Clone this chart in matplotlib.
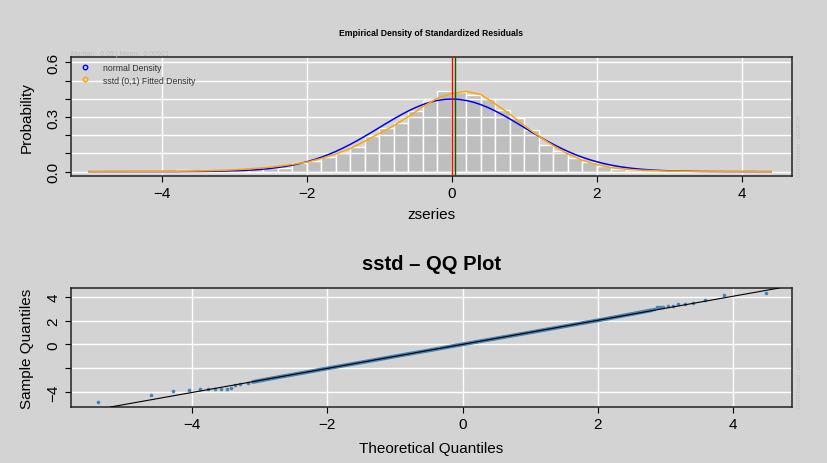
import matplotlib
matplotlib.use("Agg")
import matplotlib.pyplot as plt
from matplotlib.lines import Line2D
import numpy as np

plt.rcParams['font.family'] = ['Liberation Sans', 'DejaVu Sans']

# ---------------- data: top panel ----------------
bin_edges = [-5.0, -4.8, -4.6, -4.4, -4.2, -4.0, -3.8, -3.6, -3.4, -3.2, -3.0, -2.8, -2.6, -2.4,
             -2.2, -2.0, -1.8, -1.6, -1.4, -1.2, -1.0, -0.8, -0.6, -0.4, -0.2, 0.0, 0.2, 0.4,
             0.6, 0.8, 1.0, 1.2, 1.4, 1.6, 1.8, 2.0, 2.2, 2.4, 2.6, 2.8, 3.0, 3.2, 3.4, 3.6,
             3.8, 4.0, 4.2, 4.4]
bin_density = [0.002, 0.0, 0.0, 0.0, 0.002, 0.004, 0.009, 0.006, 0.005, 0.006, 0.008, 0.012,
               0.022, 0.019, 0.050, 0.056, 0.080, 0.105, 0.135, 0.198, 0.238, 0.266, 0.335,
               0.386, 0.442, 0.436, 0.420, 0.401, 0.336, 0.293, 0.227, 0.149, 0.112, 0.077,
               0.053, 0.031, 0.017, 0.010, 0.007, 0.006, 0.005, 0.004, 0.002, 0.002, 0.002,
               0.0, 0.002]

normal_x = [-5.0, -4.6, -4.2, -3.8, -3.4, -3.0, -2.9, -2.8, -2.7, -2.6, -2.5, -2.4, -2.3, -2.2,
            -2.1, -2.0, -1.9, -1.8, -1.7, -1.6, -1.5, -1.4, -1.3, -1.2, -1.1, -1.0, -0.9, -0.8,
            -0.7, -0.6, -0.5, -0.4, -0.3, -0.2, -0.1, 0.0, 0.1, 0.2, 0.3, 0.4, 0.5, 0.6, 0.7,
            0.8, 0.9, 1.0, 1.1, 1.2, 1.3, 1.4, 1.5, 1.6, 1.7, 1.8, 1.9, 2.0, 2.1, 2.2, 2.3,
            2.4, 2.5, 2.6, 2.7, 2.8, 2.9, 3.0, 3.4, 3.8, 4.2, 4.4]
normal_y = [0.0000015, 0.00001, 0.00006, 0.00029, 0.00123, 0.00443, 0.00595, 0.00792, 0.01042,
            0.01358, 0.01753, 0.02239, 0.02833, 0.03547, 0.04398, 0.05399, 0.06562, 0.07895,
            0.09405, 0.11092, 0.12952, 0.14973, 0.17137, 0.19419, 0.21785, 0.24197, 0.26609,
            0.28969, 0.31225, 0.33322, 0.35207, 0.36827, 0.38139, 0.39104, 0.39695, 0.39894,
            0.39695, 0.39104, 0.38139, 0.36827, 0.35207, 0.33322, 0.31225, 0.28969, 0.26609,
            0.24197, 0.21785, 0.19419, 0.17137, 0.14973, 0.12952, 0.11092, 0.09405, 0.07895,
            0.06562, 0.05399, 0.04398, 0.03547, 0.02833, 0.02239, 0.01753, 0.01358, 0.01042,
            0.00792, 0.00595, 0.00443, 0.00123, 0.00029, 0.00006, 0.000025]

sstd_x = [-5.0, -4.8, -4.6, -4.4, -4.2, -4.0, -3.8, -3.6, -3.4, -3.2, -3.0, -2.8, -2.6, -2.4,
          -2.2, -2.0, -1.8, -1.6, -1.4, -1.2, -1.0, -0.8, -0.6, -0.4, -0.2, 0.0, 0.2, 0.4,
          0.6, 0.8, 1.0, 1.2, 1.4, 1.6, 1.8, 2.0, 2.2, 2.4, 2.6, 2.8, 3.0, 3.2, 3.4, 3.6,
          3.8, 4.0, 4.2, 4.4]
sstd_y = [0.0002, 0.0003, 0.0004, 0.0006, 0.0009, 0.0013, 0.002, 0.003, 0.0045, 0.007, 0.010,
          0.015, 0.021, 0.029, 0.040, 0.052, 0.072, 0.097, 0.127, 0.167, 0.210, 0.253, 0.302,
          0.357, 0.403, 0.430, 0.441, 0.424, 0.372, 0.316, 0.253, 0.195, 0.142, 0.097, 0.063,
          0.038, 0.022, 0.013, 0.008, 0.005, 0.003, 0.002, 0.0012, 0.0008, 0.0005, 0.0003,
          0.0002, 0.0001]

resid_mean = 0.00921
resid_median = 0.05

top_xticks = [-4, -2, 0, 2, 4]
top_yticks = [0.0, 0.1, 0.2, 0.3, 0.4, 0.5, 0.6]
top_yticklabels = ['0.0', '', '', '0.3', '', '', '0.6']

# ---------------- data: bottom panel (QQ) ----------------
qq_theo_body = [-3.1, -2.9, -2.7, -2.5, -2.3, -2.1, -1.9, -1.5, -1.0, -0.5, 0.0, 0.5, 1.0,
                1.5, 2.0, 2.2, 2.4, 2.6, 2.8]
qq_samp_body = [-3.16, -2.94, -2.73, -2.53, -2.33, -2.12, -1.92, -1.52, -1.01, -0.51, 0.0,
                0.50, 1.0, 1.51, 2.01, 2.22, 2.44, 2.65, 2.87]
qq_theo_tails = [-5.39, -4.61, -4.28, -4.05, -3.89, -3.76, -3.66, -3.57, -3.49, -3.42, -3.36,
                 -3.29, -3.17, 2.83, 2.87, 2.92, 2.97, 3.03, 3.11, 3.19, 3.29, 3.41, 3.59,
                 3.86, 4.48]
qq_samp_tails = [-4.87, -4.23, -3.89, -3.81, -3.79, -3.77, -3.74, -3.72, -3.71, -3.64, -3.38,
                 -3.33, -3.27, 2.97, 3.10, 3.13, 3.16, 3.22, 3.26, 3.37, 3.40, 3.44, 3.72,
                 4.14, 4.29]
qq_line_intercept = 0.0
qq_line_slope = 1.01

bot_xticks = [-4, -2, 0, 2, 4]
bot_yticks = [-4, -2, 0, 2, 4]
bot_yticklabels = ['\u22124', '', '0', '2', '4']

# ---------------- figure ----------------
W, H = 828, 464
BG = '#D3D3D3'
fig = plt.figure(figsize=(W / 100, H / 100), dpi=100, facecolor=BG)


def px_axes(left, top, right, bottom):
    return fig.add_axes([left / W, 1 - bottom / H, (right - left) / W, (bottom - top) / H])


def style_axes(ax):
    ax.set_facecolor(BG)
    for s in ax.spines.values():
        s.set_color('#222222')
        s.set_linewidth(1.1)
    ax.tick_params(direction='out', length=4.5, width=0.8, colors='black',
                   labelsize=11, pad=3)
    ax.tick_params(axis='y', labelrotation=90)
    for lab in ax.get_yticklabels():
        lab.set_va('center')


# ---- top panel ----
ax1 = px_axes(71, 58, 792, 177)
ax1.set_xlim(-5.25, 4.69)
ax1.set_ylim(-0.024, 0.63)
edges = np.array(bin_edges)
ax1.bar(edges[:-1], bin_density, width=np.diff(edges), align='edge',
        color='#BEBEBE', edgecolor='white', linewidth=1.0, zorder=1)
for yv in top_yticks:
    ax1.axhline(yv, color='white', lw=1.0, zorder=2)
for xv in top_xticks:
    ax1.axvline(xv, color='white', lw=1.0, zorder=2)
ax1.plot(normal_x, normal_y, color='blue', lw=1.1, zorder=3)
ax1.plot(sstd_x, sstd_y, color='orange', lw=1.1, zorder=4)
ax1.axvline(resid_mean, color='red', lw=1.0, zorder=5)
ax1.axvline(resid_median, color='darkgreen', lw=1.0, zorder=5)
ax1.set_xticks(top_xticks)
ax1.set_yticks(top_yticks)
ax1.set_yticklabels(top_yticklabels)
style_axes(ax1)

handles = [Line2D([], [], marker='o', ls='', mfc='none', mec='blue', ms=3.2, mew=1.0),
           Line2D([], [], marker='o', ls='', mfc='none', mec='orange', ms=3.2, mew=1.0)]
leg = ax1.legend(handles, ['normal Density', 'sstd (0,1) Fitted Density'],
                 loc='upper left', bbox_to_anchor=(0.008, 0.975), frameon=False,
                 fontsize=6.3, labelcolor='#333333', handlelength=1.0, handletextpad=1.6,
                 labelspacing=0.35, borderaxespad=0.0)
leg.set_zorder(6)

fig.text(431.5 / W, 1 - 34 / H, 'Empirical Density of Standardized Residuals',
         ha='center', va='center', fontsize=6.2, fontweight='bold')
fig.text(71 / W, 1 - 54 / H, 'Median:  0.05 | Mean:  0.00921', ha='left', va='center',
         fontsize=5, color='#BDBDBD')
fig.text(431.5 / W, 1 - 215 / H, 'zseries', ha='center', va='center', fontsize=11)
fig.text(27 / W, 1 - 117.5 / H, 'Probability', ha='center', va='center', fontsize=11,
         rotation=90)
fig.text(800 / W, 1 - 177 / H, 'GARCHmodel : eGARCH', ha='center', va='bottom',
         fontsize=3.9, color='#C2C2C2', rotation=90)

# ---- bottom panel ----
ax2 = px_axes(71, 289, 792, 408)
ax2.set_xlim(-5.79, 4.87)
ax2.set_ylim(-5.26, 4.73)
for yv in bot_yticks:
    ax2.axhline(yv, color='white', lw=1.0, zorder=1)
for xv in bot_xticks:
    ax2.axvline(xv, color='white', lw=1.0, zorder=1)
ax2.plot(qq_theo_body, qq_samp_body, color='steelblue', lw=2.8, zorder=2,
         solid_capstyle='round')
ax2.plot(qq_theo_tails, qq_samp_tails, ls='', marker='o', ms=2.6, color='steelblue',
         mec='none', zorder=2)
ax2.axline((0, qq_line_intercept), slope=qq_line_slope, color='black', lw=0.8, zorder=3)
ax2.set_xticks(bot_xticks)
ax2.set_yticks(bot_yticks)
ax2.set_yticklabels(bot_yticklabels)
style_axes(ax2)

fig.text(431.5 / W, 1 - 265 / H, 'sstd \u2013 QQ Plot', ha='center', va='center',
         fontsize=14.5, fontweight='bold')
fig.text(431.5 / W, 1 - 449 / H, 'Theoretical Quantiles', ha='center', va='center',
         fontsize=11)
fig.text(27 / W, 1 - 348.5 / H, 'Sample Quantiles', ha='center', va='center', fontsize=11,
         rotation=90)
fig.text(800 / W, 1 - 408 / H, 'GARCHmodel : eGARCH', ha='center', va='bottom',
         fontsize=3.9, color='#C2C2C2', rotation=90)

fig.savefig('out.png', dpi=100, facecolor=BG)
